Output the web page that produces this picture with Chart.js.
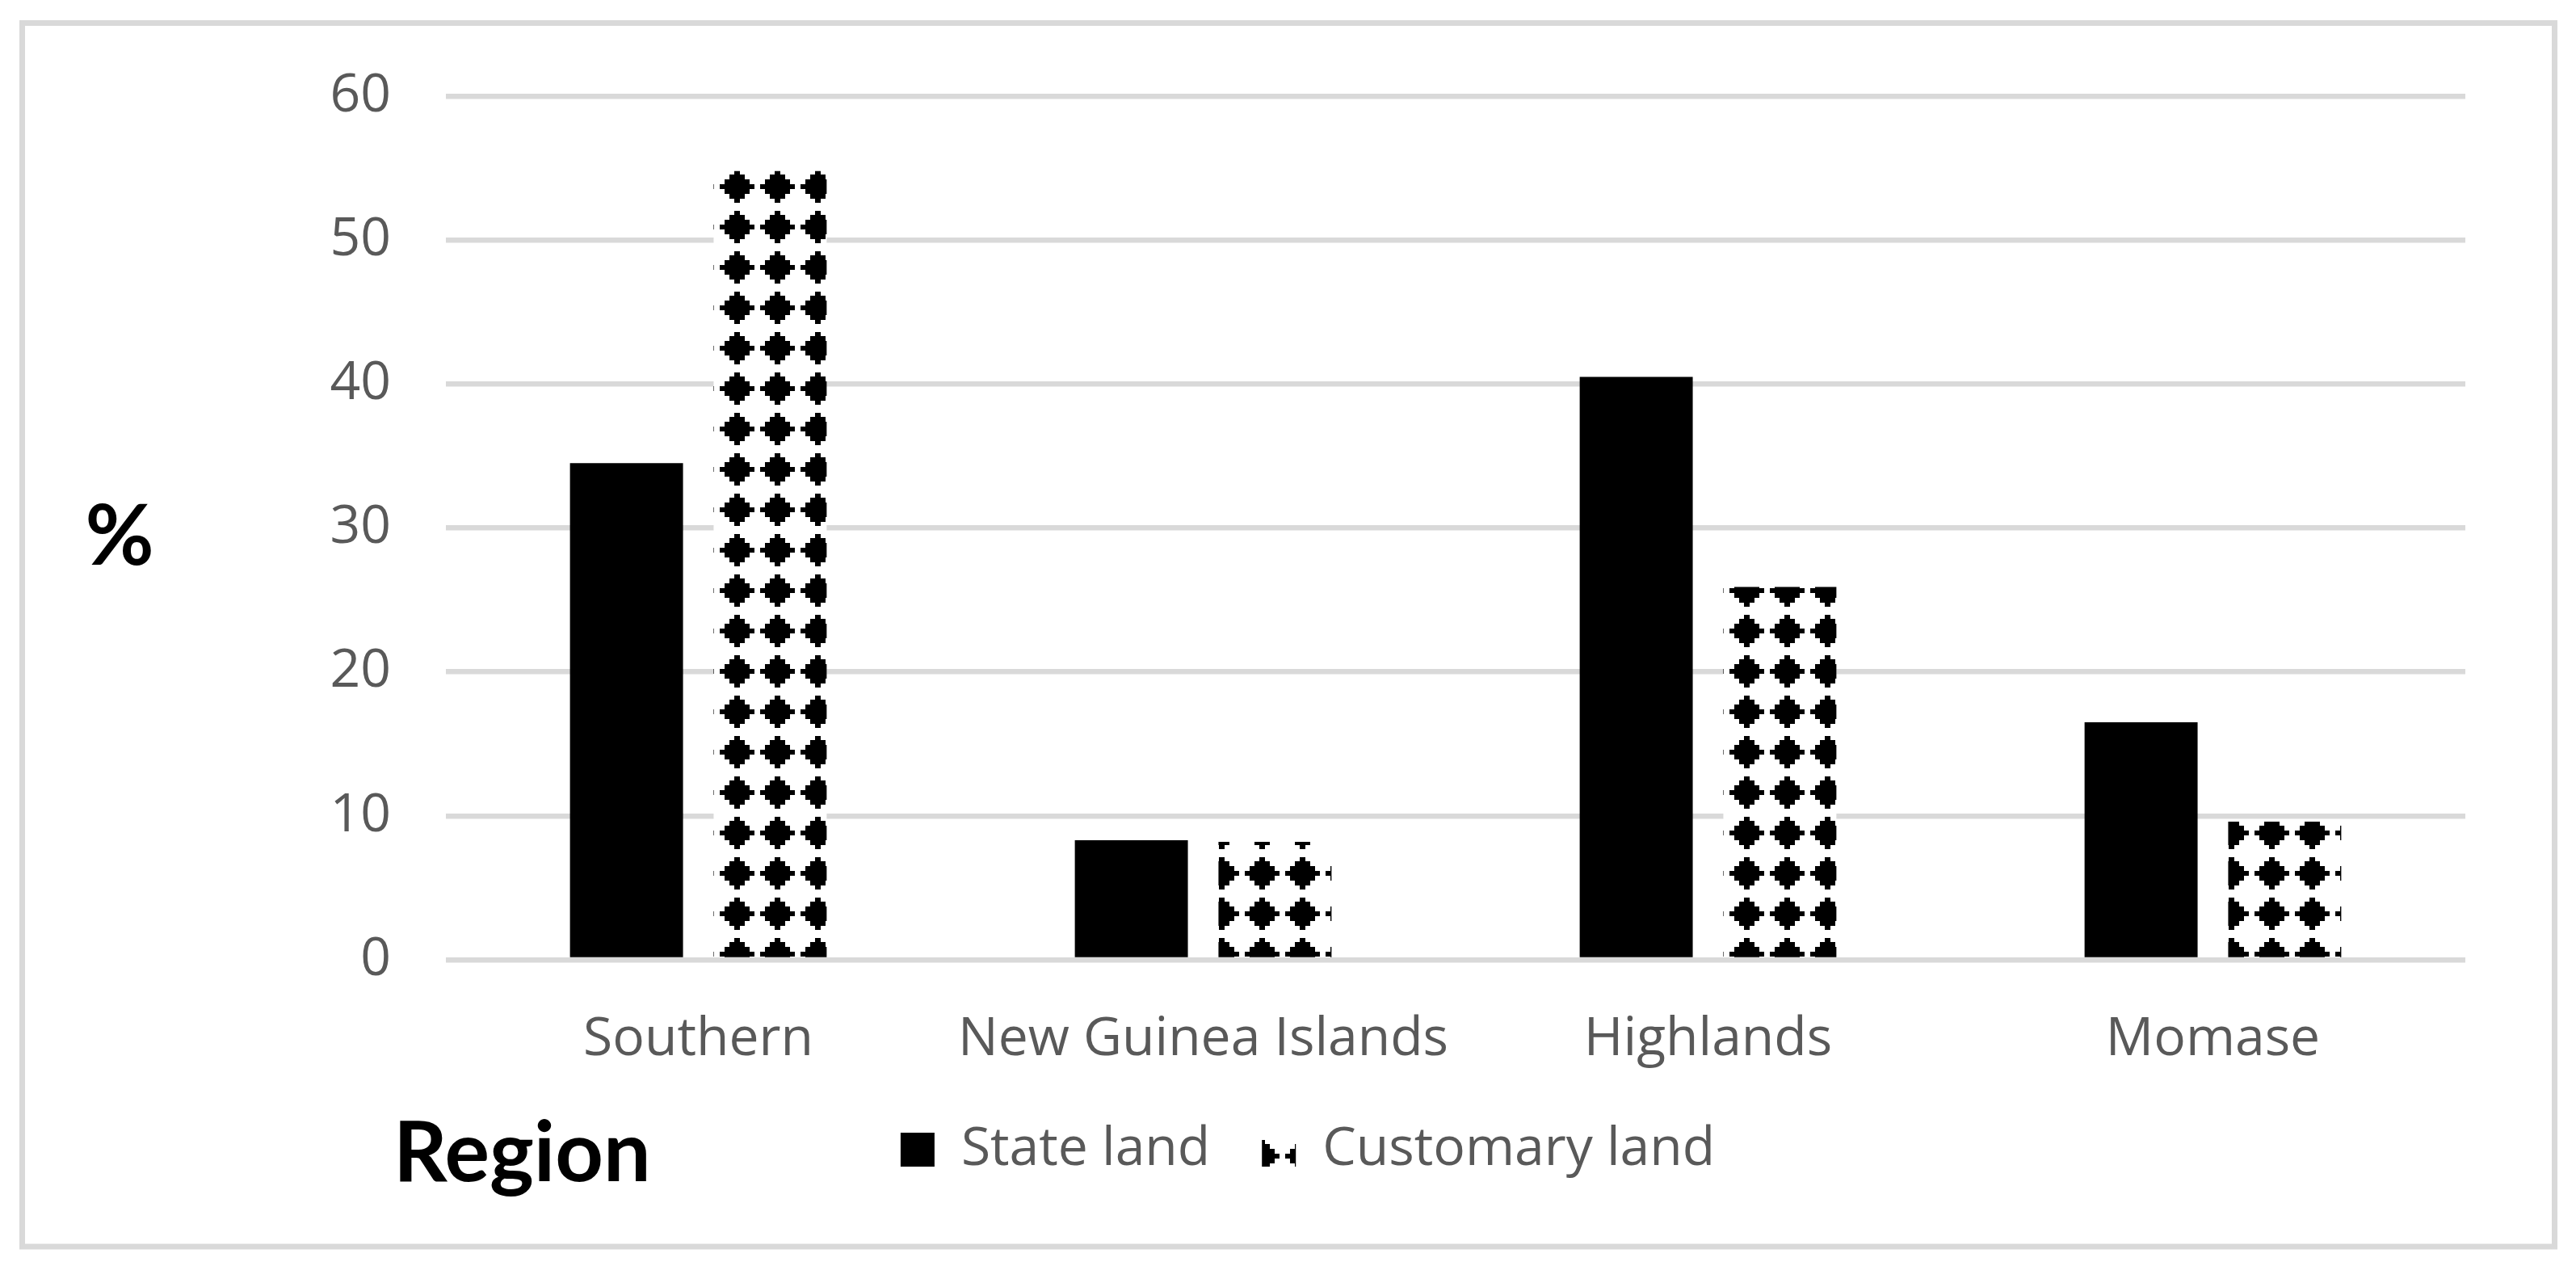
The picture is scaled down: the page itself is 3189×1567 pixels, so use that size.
<!DOCTYPE html>
<html>
<head>
<meta charset="utf-8">
<script src="https://cdn.jsdelivr.net/npm/chart.js@4.4.1/dist/chart.umd.min.js"></script>
<style>
  html, body { margin: 0; padding: 0; background: #fff; }
  canvas { display: block; }
</style>
</head>
<body>
<canvas id="myChart" width="3189" height="1567"></canvas>
<script>
// values
var categories = ['Southern', 'New Guinea Islands', 'Highlands', 'Momase'];
var stateLand = [34.5, 8.3, 40.5, 16.5];
var customaryLand = [54.8, 8.2, 25.9, 9.6];
var seriesNames = ['State land', 'Customary land'];
var yMin = 0, yMax = 60, yStep = 10;

var textGrey = '#595959';
var lineGrey = '#d9d9d9';

// stepped diamond tile, 50px repeat
function diamondPattern(ctx) {
    var tile = document.createElement('canvas');
    tile.width = 50;
    tile.height = 50;
    var t = tile.getContext('2d');
    t.fillStyle = '#fff';
    t.fillRect(0, 0, 50, 50);
    t.fillStyle = '#000';
    var rows = [[5, 5, 7], [10, 6, 19], [16, 6, 31], [22, 6, 43], [28, 6, 31], [34, 6, 19], [40, 5, 7]];
    rows.forEach(function (r) {
        t.fillRect(25.5 - r[2] / 2, r[0], r[2], r[1]);
    });
    var p = ctx.createPattern(tile, 'repeat');
    p.setTransform(new DOMMatrix([1, 0, 0, 1, -13, 6]));
    return p;
}

var frameAndTitles = {
    id: 'frameAndTitles',
    beforeDraw: function (chart) {
        var c = chart.ctx;
        c.save();
        c.fillStyle = '#fff';
        c.fillRect(0, 0, chart.width, chart.height);
        c.strokeStyle = lineGrey;
        c.lineWidth = 7;
        c.strokeRect(27.5, 28.5, 3135, 1514.5);
        c.restore();
    },
    afterDraw: function (chart) {
        var c = chart.ctx;
        var area = chart.chartArea;
        c.save();
        c.fillStyle = '#000';
        c.font = 'bold 104px Lato';
        c.textAlign = 'center';
        c.textBaseline = 'middle';
        c.fillText('%', 148, (area.top + area.bottom) / 2 + 12);
        c.font = 'bold 104px Lato';
        c.textAlign = 'left';
        c.textBaseline = 'alphabetic';
        c.fillText('Region', 487, 1462);
        c.restore();
    }
};

var ctx = document.getElementById('myChart').getContext('2d');

var myChart = new Chart(ctx, {
    type: 'bar',
    data: {
        labels: categories,
        datasets: [{
            label: seriesNames[0],
            data: stateLand,
            backgroundColor: '#000',
            borderWidth: 0
        }, {
            label: seriesNames[1],
            data: customaryLand,
            backgroundColor: diamondPattern(ctx),
            borderWidth: 0
        }]
    },
    options: {
        responsive: false,
        animation: false,
        devicePixelRatio: 1,
        categoryPercentage: 0.569,
        barPercentage: 0.787,
        layout: {
            padding: { top: 119, left: 186, right: 137, bottom: 101 }
        },
        plugins: {
            tooltip: { enabled: false },
            legend: {
                position: 'bottom',
                align: 'center',
                labels: {
                    boxWidth: 42,
                    boxHeight: 42,
                    padding: 64,
                    color: textGrey,
                    font: { family: 'Open Sans', size: 66 }
                }
            }
        },
        scales: {
            x: {
                grid: { display: false },
                border: { display: false },
                ticks: {
                    color: textGrey,
                    padding: 52,
                    maxRotation: 0,
                    font: { family: 'Open Sans', size: 66 }
                },
                afterFit: function (scale) { scale.height = 138; }
            },
            y: {
                min: yMin,
                max: yMax,
                grid: { color: lineGrey, lineWidth: 6.5, drawTicks: false },
                border: { display: false },
                ticks: {
                    stepSize: yStep,
                    color: textGrey,
                    padding: 68,
                    font: { family: 'Open Sans', size: 66 }
                },
                afterFit: function (scale) { scale.width = 366; }
            }
        }
    },
    plugins: [frameAndTitles]
});
</script>
</body>
</html>
